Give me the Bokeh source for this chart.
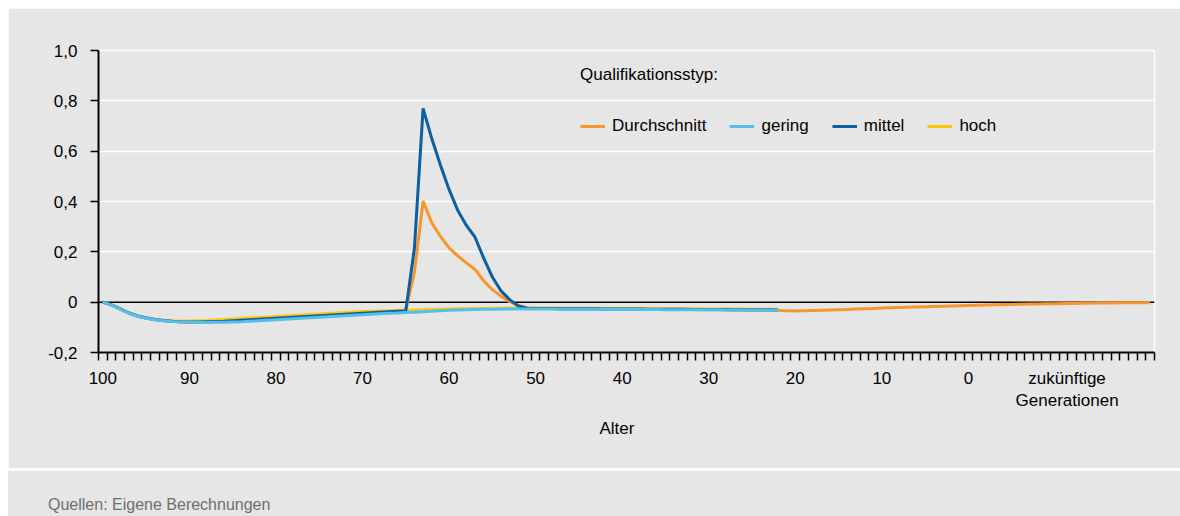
from bokeh.plotting import figure
from bokeh.models import Range1d, FixedTicker, Span, Legend, LegendItem, Title, Div
from bokeh.layouts import column
from bokeh.embed import file_html
from bokeh.resources import INLINE

# ---------------- data ----------------
ages_all = list(range(100, -22, -1))   # 100 ... -21 (negative = zukünftige Generationen)
ages_typ = list(range(100, 21, -1))    # 100 ... 22

durchschnitt = [
    0.000, -0.011, -0.027, -0.043, -0.055, -0.063, -0.069, -0.073, -0.076, -0.078,
    -0.079, -0.079, -0.078, -0.077, -0.075, -0.073, -0.071, -0.069, -0.067, -0.065,
    -0.063, -0.061, -0.059, -0.057, -0.055, -0.053, -0.051, -0.049, -0.047, -0.045,
    -0.043, -0.041, -0.039, -0.037, -0.035, -0.034, 0.120, 0.402, 0.315, 0.262,
    0.216, 0.184, 0.156, 0.130, 0.085, 0.050, 0.024, 0.002, -0.013, -0.022,
    -0.025, -0.025, -0.025, -0.026, -0.026, -0.026, -0.026, -0.027, -0.027, -0.027,
    -0.027, -0.028, -0.028, -0.028, -0.028, -0.029, -0.029, -0.029, -0.029, -0.030,
    -0.030, -0.030, -0.031, -0.031, -0.031, -0.032, -0.032, -0.032, -0.033, -0.034,
    -0.035, -0.034, -0.033, -0.032, -0.031, -0.030, -0.029, -0.027, -0.026, -0.025,
    -0.023, -0.022, -0.021, -0.020, -0.019, -0.018, -0.017, -0.016, -0.015, -0.014,
    -0.013, -0.012, -0.011, -0.010, -0.009, -0.009, -0.008, -0.007, -0.007, -0.006,
    -0.006, -0.005, -0.005, -0.004, -0.004, -0.003, -0.003, -0.003, -0.002, -0.002,
    -0.002, -0.002,
]
gering = [
    0.000, -0.012, -0.028, -0.044, -0.056, -0.064, -0.070, -0.074, -0.077, -0.079,
    -0.080, -0.081, -0.081, -0.080, -0.080, -0.079, -0.078, -0.076, -0.074, -0.072,
    -0.070, -0.068, -0.066, -0.064, -0.062, -0.060, -0.058, -0.056, -0.054, -0.052,
    -0.050, -0.048, -0.046, -0.044, -0.043, -0.041, -0.040, -0.038, -0.036, -0.034,
    -0.032, -0.031, -0.030, -0.029, -0.028, -0.028, -0.027, -0.027, -0.027, -0.027,
    -0.027, -0.027, -0.027, -0.028, -0.028, -0.028, -0.028, -0.028, -0.028, -0.029,
    -0.029, -0.029, -0.029, -0.029, -0.029, -0.030, -0.030, -0.030, -0.030, -0.030,
    -0.030, -0.030, -0.031, -0.031, -0.031, -0.031, -0.031, -0.032, -0.032,
]
mittel = [
    0.000, -0.011, -0.027, -0.043, -0.055, -0.063, -0.069, -0.073, -0.076, -0.078,
    -0.079, -0.079, -0.078, -0.077, -0.076, -0.074, -0.072, -0.070, -0.068, -0.066,
    -0.064, -0.062, -0.060, -0.058, -0.056, -0.054, -0.052, -0.050, -0.048, -0.046,
    -0.044, -0.042, -0.040, -0.038, -0.036, -0.034, 0.215, 0.770, 0.650, 0.545,
    0.448, 0.365, 0.305, 0.258, 0.175, 0.100, 0.045, 0.010, -0.015, -0.024,
    -0.025, -0.025, -0.025, -0.026, -0.026, -0.026, -0.026, -0.026, -0.027, -0.027,
    -0.027, -0.027, -0.027, -0.028, -0.028, -0.028, -0.028, -0.028, -0.029, -0.029,
    -0.029, -0.029, -0.029, -0.030, -0.030, -0.030, -0.030, -0.030, -0.031,
]
hoch = [
    0.000, -0.011, -0.027, -0.042, -0.054, -0.062, -0.068, -0.072, -0.074, -0.075,
    -0.075, -0.074, -0.073, -0.071, -0.069, -0.067, -0.065, -0.063, -0.061, -0.059,
    -0.057, -0.055, -0.053, -0.051, -0.049, -0.047, -0.045, -0.043, -0.041, -0.039,
    -0.037, -0.036, -0.035, -0.034, -0.033, -0.032, -0.031, -0.030, -0.029, -0.028,
    -0.027, -0.026, -0.026, -0.025, -0.025, -0.024, -0.024, -0.023, -0.023, -0.023,
    -0.023, -0.023, -0.023, -0.024, -0.024, -0.024, -0.024, -0.024, -0.025, -0.025,
    -0.025, -0.025, -0.025, -0.025, -0.026, -0.026, -0.026, -0.026, -0.026, -0.026,
    -0.027, -0.027, -0.027, -0.027, -0.027, -0.028, -0.028, -0.028, -0.028,
]

y_ticks = [-0.2, 0, 0.2, 0.4, 0.6, 0.8, 1]
y_labels = ["-0,2", "0", "0,2", "0,4", "0,6", "0,8", "1,0"]
x_ticks = [100, 90, 80, 70, 60, 50, 40, 30, 20, 10, 0, -11.4]
x_labels = ["100", "90", "80", "70", "60", "50", "40", "30", "20", "10", "0",
            "zukünftige\nGenerationen"]

legend_title = "Qualifikationsstyp:"
series_names = ["Durchschnitt", "gering", "mittel", "hoch"]
colors = {"Durchschnitt": "#F7962A", "gering": "#52BFEC", "mittel": "#0B5FA3", "hoch": "#FFC60B"}

GREY = "#E6E6E6"
FONT = "Liberation Sans"
FS = "17px"

# ---------------- main figure ----------------
p = figure(width=1172, height=460, output_backend="svg", toolbar_location=None,
           x_range=Range1d(100.5, -21.5), y_range=Range1d(-0.2, 1.0),
           background_fill_color=GREY, border_fill_color=GREY,
           min_border_left=90, min_border_right=26, min_border_top=42, min_border_bottom=116)
p.outline_line_color = "white"
p.outline_line_width = 1.5

p.xgrid.visible = False
p.ygrid.ticker = FixedTicker(ticks=[0.2, 0.4, 0.6, 0.8, 1])
p.ygrid.grid_line_color = "white"
p.ygrid.grid_line_width = 1.5

zero = Span(location=0, dimension="width", line_color="black", line_width=1.5, level="underlay")
p.add_layout(zero)

# x axis
xa = p.xaxis[0]
xa.ticker = FixedTicker(ticks=x_ticks, minor_ticks=[a + 0.5 for a in ages_all] + [-21.5])
xa.major_label_overrides = {t: l for t, l in zip(x_ticks, x_labels)}
xa.major_tick_line_color = None
xa.major_tick_out = 8
xa.major_tick_in = 0
xa.minor_tick_out = 8
xa.minor_tick_in = 0
xa.minor_tick_line_color = "black"
xa.minor_tick_line_width = 1.5
xa.axis_line_color = "black"
xa.axis_line_width = 2
xa.major_label_standoff = 8
xa.major_label_text_font = FONT
xa.major_label_text_font_size = FS
xa.major_label_text_color = "black"

# y axis
ya = p.yaxis[0]
ya.ticker = FixedTicker(ticks=y_ticks)
ya.major_label_overrides = {t: l for t, l in zip(y_ticks, y_labels)}
ya.major_tick_out = 8
ya.major_tick_in = 0
ya.major_tick_line_width = 1.5
ya.minor_tick_line_color = None
ya.axis_line_color = "black"
ya.axis_line_width = 2
ya.major_label_standoff = 13
ya.major_label_text_font = FONT
ya.major_label_text_font_size = FS
ya.major_label_text_color = "black"

# lines (drawing order: Durchschnitt, hoch, mittel, gering)
data = {"Durchschnitt": (ages_all, durchschnitt), "gering": (ages_typ, gering),
        "mittel": (ages_typ, mittel), "hoch": (ages_typ, hoch)}
renderers = {}
for name in ["Durchschnitt", "hoch", "mittel", "gering"]:
    xs, ys = data[name]
    renderers[name] = p.line(xs, ys, line_color=colors[name], line_width=3)

legend = Legend(items=[LegendItem(label=n, renderers=[renderers[n]]) for n in series_names],
                location=(482, 216), orientation="horizontal",
                title=legend_title, title_text_font=FONT, title_text_font_size=FS,
                title_text_font_style="normal", title_text_color="black", title_standoff=31,
                label_text_font=FONT, label_text_font_size=FS, label_text_color="black",
                glyph_width=25, label_standoff=7, spacing=23, padding=0, margin=0,
                border_line_color=None, background_fill_alpha=0)
p.add_layout(legend)

xlabel = Title(text="Alter", align="left", offset=501, text_font=FONT, text_font_size=FS,
               text_font_style="normal", text_color="black", standoff=6)
p.add_layout(xlabel, "below")

# ---------------- footer ----------------
footer = Div(text="Quellen: Eigene Berechnungen", width=1172, height=45, margin=0,
             styles={"background-color": GREY, "font-family": FONT, "font-size": "16px",
                     "color": "#6E6E6E", "padding-left": "40px", "padding-top": "23px",
                     "box-sizing": "border-box"})

layout = column(p, footer, spacing=3, margin=(8, 0, 0, 8))
open("out.html", "w").write(file_html(layout, INLINE))
